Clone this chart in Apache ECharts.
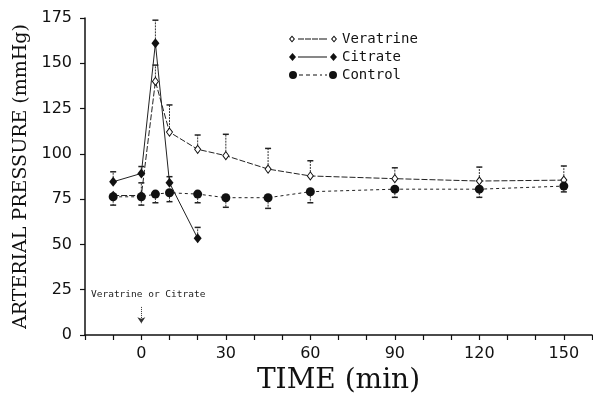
<!DOCTYPE html>
<html>
<head>
<meta charset="utf-8">
<script src="https://cdn.jsdelivr.net/npm/echarts@6/dist/echarts.min.js"></script>
<style>html,body{margin:0;padding:0;background:#fff}#c{width:593px;height:395px}</style>
</head>
<body>
<div id="c"></div>
<script>
// ---- data ----
const seriesNames = ['Veratrine', 'Citrate', 'Control'];
const times = [-10, 0, 5, 10, 20, 30, 45, 60, 90, 120, 150];
const veratrine = [77, 77, 140, 112, 102.5, 99, 91.6, 87.8, 86.3, 85, 85.5];
const veratrineUpper = [null, 84, 149, 127, 110.4, 110.8, 103, 96.2, 92.3, 92.7, 93.3];
const citrateTimes = [-10, 0, 5, 10, 20];
const citrate = [84.6, 89.2, 161, 84, 53.4];
const citrateUpper = [90.1, 93, 173.8, 87.4, 59.4];
const control = [76.3, 76.3, 77.8, 78.5, 77.8, 75.8, 75.8, 79.1, 80.5, 80.5, 82.2];
const controlLower = [71.7, 71.7, 73, 73.6, 73, 70.5, 69.9, 73, 76, 76, 79];
const xTickLabels = [0, 30, 60, 90, 120, 150];
const annotationText = 'Veratrine or Citrate';
const annotationArrow = [[0, 15.5], [0, 6.5]];

const pairs = (t, v) => t.map((x, i) => [x, v[i]]);
const errData = (t, v, e) => t.map((x, i) => [x, v[i], e[i]]).filter(d => d[2] != null);

function errRender(params, api) {
  const t = api.value(0), v = api.value(1), e = api.value(2);
  const p1 = api.coord([t, v]);
  const p2 = api.coord([t, e]);
  const dir = p2[1] < p1[1] ? -1 : 1;
  const start = p1[1] + dir * 4;
  return {
    type: 'group',
    children: [
      { type: 'line', shape: { x1: p1[0], y1: start, x2: p2[0], y2: p2[1] },
        style: { stroke: '#333', lineWidth: 1, lineDash: [2, 1] } },
      { type: 'line', shape: { x1: p2[0] - 3, y1: p2[1], x2: p2[0] + 3, y2: p2[1] },
        style: { stroke: '#222', lineWidth: 1.5 } }
    ]
  };
}

const iconVer = 'path://M3 1L6 4.5L3 8L0 4.5Z M3 2.4L1.3 4.5L3 6.6L4.7 4.5Z M9 4h6v1h-6Z M16 4h6v1h-6Z M23 4h6v1h-6Z M30 4h8v1h-8Z M45 1L48 4.5L45 8L42 4.5Z M45 2.4L43.3 4.5L45 6.6L46.7 4.5Z';
const iconCit = 'path://M3.5 0.5L7 4.5L3.5 8.5L0 4.5Z M9 4H38v1H9Z M44.5 0.5L48 4.5L44.5 8.5L41 4.5Z';
const iconCtl = 'path://M0 4.5A4 4 0 1 1 8 4.5A4 4 0 1 1 0 4.5Z M10 4h4v1h-4Z M17 4h4v1h-4Z M24 4h4v1h-4Z M31 4h2v1h-2Z M36 4h2v1h-2Z M40 4.5A4 4 0 1 1 48 4.5A4 4 0 1 1 40 4.5Z';

const chart = echarts.init(document.getElementById('c'));
const axisFont = { fontFamily: 'DejaVu Sans', fontSize: 16, color: '#111' };
chart.setOption({
  animation: false,
  backgroundColor: '#fff',
  grid: { left: 85, right: 1, top: 18, bottom: 60, containLabel: false, outerBoundsMode: 'none' },
  legend: {
    orient: 'vertical', left: 284, top: 27, itemGap: 4, itemWidth: 48, itemHeight: 9,
    textStyle: { fontFamily: 'DejaVu Sans Mono', fontSize: 14, color: '#111' },
    data: [
      { name: seriesNames[0], icon: iconVer, itemStyle: { color: '#111', borderWidth: 0 } },
      { name: seriesNames[1], icon: iconCit, itemStyle: { color: '#111', borderWidth: 0 } },
      { name: seriesNames[2], icon: iconCtl, itemStyle: { color: '#111', borderWidth: 0 } }
    ]
  },
  xAxis: {
    type: 'value', min: -20, max: 160, interval: 10,
    name: 'TIME (min)', nameLocation: 'middle', nameGap: 30,
    nameTextStyle: { fontFamily: 'DejaVu Serif', fontSize: 28, color: '#111' },
    axisLine: { show: true, onZero: false, lineStyle: { color: '#111', width: 1.5 } },
    axisTick: { show: true, length: 5, lineStyle: { color: '#111', width: 1.2 } },
    axisLabel: Object.assign({ margin: 11, formatter: v => xTickLabels.includes(v) ? String(v) : '' }, axisFont),
    splitLine: { show: false }
  },
  yAxis: {
    type: 'value', min: 0, max: 175, interval: 25,
    name: 'ARTERIAL PRESSURE (mmHg)', nameLocation: 'middle', nameGap: 47,
    nameTextStyle: { fontFamily: 'DejaVu Serif', fontSize: 19, color: '#111' },
    axisLine: { show: true, onZero: false, lineStyle: { color: '#111', width: 1.5 } },
    axisTick: { show: true, length: 5, lineStyle: { color: '#111', width: 1.2 } },
    axisLabel: Object.assign({ margin: 13 }, axisFont),
    splitLine: { show: false }
  },
  graphic: [
    { type: 'text', left: 91, top: 290,
      style: { text: annotationText, fontFamily: 'DejaVu Sans Mono', fontSize: 9.5, fill: '#222' } }
  ],
  series: [
    { type: 'custom', name: 'verErr', renderItem: errRender, data: errData(times, veratrine, veratrineUpper),
      encode: { x: 0, y: [1, 2] }, z: 1, silent: true },
    { type: 'custom', name: 'citErr', renderItem: errRender, data: errData(citrateTimes, citrate, citrateUpper),
      encode: { x: 0, y: [1, 2] }, z: 1, silent: true },
    { type: 'custom', name: 'ctlErr', renderItem: errRender, data: errData(times, control, controlLower),
      encode: { x: 0, y: [1, 2] }, z: 1, silent: true },
    { type: 'line', name: seriesNames[0], data: pairs(times, veratrine), z: 2,
      symbol: 'diamond', symbolSize: [6, 8], showAllSymbol: true,
      lineStyle: { color: '#222', width: 1, type: [6, 2] },
      itemStyle: { color: '#fff', borderColor: '#111', borderWidth: 1 } },
    { type: 'line', name: seriesNames[1], data: pairs(citrateTimes, citrate), z: 3,
      symbol: 'diamond', symbolSize: [8, 10],
      lineStyle: { color: '#222', width: 1 },
      itemStyle: { color: '#111', borderWidth: 0 },
      markLine: { silent: true, symbol: ['none', 'arrow'], symbolSize: [6, 6],
        label: { show: false },
        lineStyle: { color: '#333', width: 1, type: [1, 1] },
        data: [[{ coord: annotationArrow[0] }, { coord: annotationArrow[1] }]] } },
    { type: 'line', name: seriesNames[2], data: pairs(times, control), z: 4,
      symbol: 'circle', symbolSize: 9,
      lineStyle: { color: '#222', width: 1, type: [3, 3] },
      itemStyle: { color: '#111', borderWidth: 0 } }
  ]
});
</script>
</body>
</html>
